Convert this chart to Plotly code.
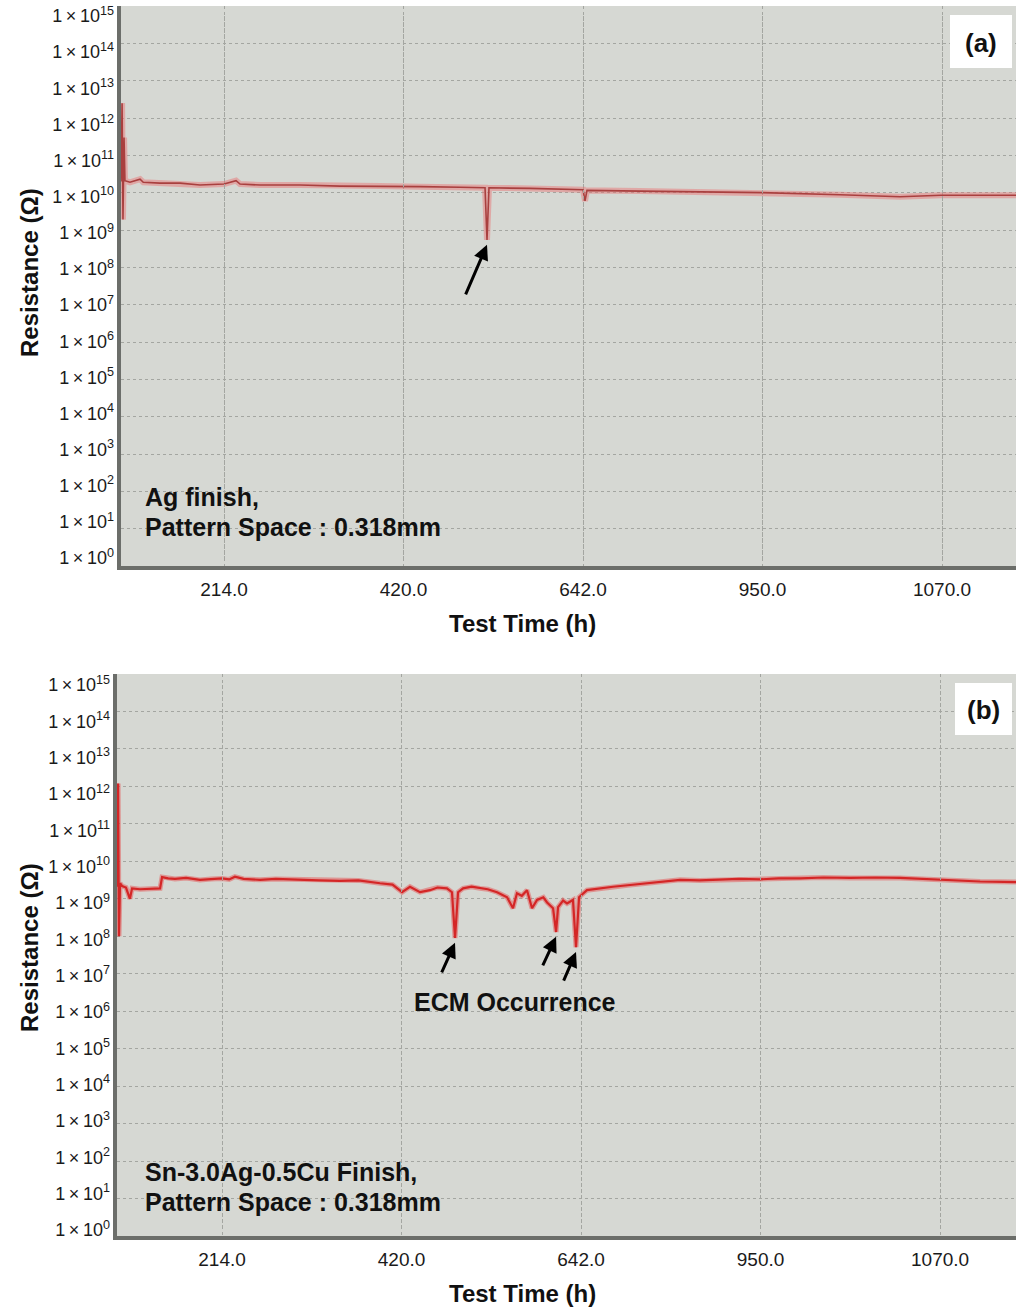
import plotly.graph_objects as go
import numpy as np

# ---------------- data ----------------
tick_pos = [1, 2, 3, 4, 5]
tick_labels = ["214.0", "420.0", "642.0", "950.0", "1070.0"]
decades = list(range(0, 16))

# Panel (a): Ag finish
pos_a = [0.426, 0.432, 0.437, 0.443, 0.448, 0.476, 0.532, 0.55, 0.643, 0.755, 0.866,
         1.000, 1.067, 1.089, 1.201, 1.423, 1.646, 1.869, 2.092, 2.315, 2.454, 2.465,
         2.476, 2.705, 3.000, 3.011, 3.022, 3.318, 3.652, 3.997, 4.432, 4.766, 4.994, 5.412]
res_a = [2.0e10, 2.5e12, 1.9e9, 3.0e11, 2.1e10, 1.9e10, 2.3e10, 1.9e10, 1.8e10, 1.8e10, 1.6e10,
         1.7e10, 2.1e10, 1.7e10, 1.6e10, 1.6e10, 1.5e10, 1.5e10, 1.45e10, 1.4e10, 1.35e10, 5.4e8,
         1.35e10, 1.3e10, 1.2e10, 6.0e9, 1.15e10, 1.1e10, 1.05e10, 1.0e10, 8.8e9, 7.8e9, 8.5e9, 8.5e9]
dip_a = [(2.465, 5.4e8)]

# Panel (b): Sn-3.0Ag-0.5Cu finish
pos_b = [0.418, 0.421, 0.426, 0.432, 0.443, 0.465, 0.487, 0.499, 0.543, 0.627, 0.655, 0.666,
         0.700, 0.738, 0.800, 0.877, 0.940, 1.000, 1.040, 1.072, 1.120, 1.212, 1.300, 1.435,
         1.540, 1.657, 1.760, 1.880, 1.950, 2.003, 2.047, 2.103, 2.159, 2.200, 2.253, 2.281,
         2.298, 2.315, 2.343, 2.390, 2.437, 2.480, 2.532, 2.588, 2.621, 2.643, 2.670, 2.699,
         2.727, 2.755, 2.790, 2.811, 2.844, 2.861, 2.872, 2.900, 2.922, 2.955, 2.972, 2.989,
         3.033, 3.100, 3.178, 3.260, 3.368, 3.450, 3.552, 3.660, 3.774, 3.880, 3.997, 4.100,
         4.220, 4.350, 4.499, 4.640, 4.777, 4.900, 5.000, 5.100, 5.223, 5.423]
res_b = [2.1e9, 1.2e12, 1.0e8, 2.6e9, 2.2e9, 2.0e9, 1.0e9, 1.9e9, 1.8e9, 1.9e9, 1.9e9, 3.8e9,
         3.5e9, 3.4e9, 3.6e9, 3.2e9, 3.4e9, 3.5e9, 3.3e9, 3.9e9, 3.4e9, 3.2e9, 3.4e9, 3.3e9,
         3.1e9, 3.0e9, 3.1e9, 2.6e9, 2.4e9, 1.5e9, 2.1e9, 1.5e9, 1.7e9, 2.0e9, 1.9e9, 1.5e9,
         9.0e7, 1.5e9, 1.9e9, 2.1e9, 1.9e9, 1.8e9, 1.5e9, 1.1e9, 5.6e8, 1.4e9, 1.2e9, 1.7e9,
         5.6e8, 9.3e8, 1.1e9, 8.0e8, 5.6e8, 1.3e8, 6.0e8, 9.0e8, 7.5e8, 9.3e8, 5.1e7, 1.1e9,
         1.7e9, 1.9e9, 2.1e9, 2.3e9, 2.6e9, 2.9e9, 3.2e9, 3.1e9, 3.2e9, 3.4e9, 3.3e9, 3.5e9,
         3.5e9, 3.7e9, 3.6e9, 3.7e9, 3.6e9, 3.4e9, 3.2e9, 3.0e9, 2.9e9, 2.8e9]
dip_b = [(2.298, 9.0e7), (2.861, 1.3e8), (2.972, 5.1e7)]

# ---------------- layout helpers ----------------
W, H = 1016, 1310
def px(x):
    return x / W
def py(y):
    return 1 - y / H

BG = "#d6d8d3"
GRID = "#a4a6a1"
AXLINE = "#6c6e6a"
YTICKFONT = dict(family="Liberation Sans, Arial, sans-serif", size=18, color="#1a1a1a")
XTICKFONT = dict(family="Liberation Sans, Arial, sans-serif", size=19, color="#1a1a1a")
BOLD = "Liberation Sans, Arial, sans-serif"
THIN = "\u2009"

fig = go.Figure()

fig.add_trace(go.Scatter(x=pos_a, y=res_a, mode="lines", xaxis="x", yaxis="y",
                         line=dict(color="rgba(235,110,110,0.45)", width=6), hoverinfo="skip"))
fig.add_trace(go.Scatter(x=pos_a, y=res_a, mode="lines", xaxis="x", yaxis="y",
                         line=dict(color="#a9403f", width=1.6)))
fig.add_trace(go.Scatter(x=pos_b, y=res_b, mode="lines", xaxis="x2", yaxis="y2",
                         line=dict(color="rgba(230,70,70,0.45)", width=5), hoverinfo="skip"))
fig.add_trace(go.Scatter(x=pos_b, y=res_b, mode="lines", xaxis="x2", yaxis="y2",
                         line=dict(color="#d42626", width=2.2)))
# invisible carriers for the tick-label axes (labels are laid out slightly inset, as in the original)
fig.add_trace(go.Scatter(x=pos_a, y=res_a, mode="lines", xaxis="x", yaxis="y3",
                         line=dict(width=0), opacity=0, hoverinfo="skip"))
fig.add_trace(go.Scatter(x=pos_b, y=res_b, mode="lines", xaxis="x2", yaxis="y4",
                         line=dict(width=0), opacity=0, hoverinfo="skip"))

def xaxis_cfg(domain, rng, anchor):
    return dict(domain=domain, range=rng, anchor=anchor, tickmode="array",
                tickvals=tick_pos, ticktext=tick_labels, tickfont=XTICKFONT,
                showgrid=True, gridcolor=GRID, griddash="dot", gridwidth=1,
                showline=True, linecolor=AXLINE, linewidth=4, ticks="",
                ticklabelstandoff=3, zeroline=False, automargin=False)

def yaxis_cfg(domain, anchor):
    return dict(domain=domain, type="log", range=[0, 15], anchor=anchor,
                tickmode="array", tickvals=[10 ** d for d in decades],
                showticklabels=False,
                showgrid=True, gridcolor=GRID, griddash="dot", gridwidth=1,
                showline=True, linecolor=AXLINE, linewidth=4, ticks="",
                zeroline=False, automargin=False)

def ylabel_cfg(domain, xpos):
    return dict(domain=domain, type="log", range=[0, 15], anchor="free", position=xpos,
                tickmode="array", tickvals=[10 ** d for d in decades],
                ticktext=[f"1{THIN}×{THIN}10<sup>{d}</sup>" for d in decades], tickfont=YTICKFONT,
                showgrid=False, showline=False, ticks="", ticklabelstandoff=7,
                zeroline=False, automargin=False, fixedrange=True)

xa_left, xb_left = 121, 117
u_a = (0.426, 5.412)
u_b = (0.415, 5.423)
panel_a = (xa_left, 6, W, 566)
panel_b = (xb_left, 674, W, 1236)

fig.update_layout(
    width=W, height=H, paper_bgcolor="white", plot_bgcolor="rgba(0,0,0,0)",
    margin=dict(l=0, r=0, t=0, b=0, autoexpand=False), showlegend=False,
    xaxis=xaxis_cfg([px(xa_left), 1], list(u_a), "y"),
    yaxis=yaxis_cfg([py(panel_a[3]), py(panel_a[1])], "x"),
    xaxis2=xaxis_cfg([px(xb_left), 1], list(u_b), "y2"),
    yaxis2=yaxis_cfg([py(panel_b[3]), py(panel_b[1])], "x2"),
    yaxis3=ylabel_cfg([py(558), py(16)], px(xa_left)),
    yaxis4=ylabel_cfg([py(1230), py(685)], px(xb_left)),
)

shapes = []
# gray plot areas (drawn below grid and data)
for (x0, y0, x1, y1) in (panel_a, panel_b):
    shapes.append(dict(type="rect", xref="paper", yref="paper", x0=px(x0), x1=px(x1),
                       y0=py(y1), y1=py(y0), fillcolor=BG, line=dict(width=0), layer="below"))

annotations = []
def txt(x, y, s, size=25, xanchor="left", angle=0):
    annotations.append(dict(xref="paper", yref="paper", x=px(x), y=py(y), text=s,
                            showarrow=False, xanchor=xanchor, yanchor="middle",
                            textangle=angle,
                            font=dict(family=BOLD, size=size, color="#111111")))

# axis titles
for cy in (273, 948):
    txt(29, cy, "<b>Resistance (Ω)</b>", size=24, xanchor="center", angle=-90)
txt(522, 623, "<b>Test Time (h)</b>", size=24, xanchor="center")
txt(522, 1293, "<b>Test Time (h)</b>", size=24, xanchor="center")

# in-plot labels
txt(143, 497, "<b>Ag finish,</b>")
txt(143, 527, "<b>Pattern Space : 0.318mm</b>")
txt(143, 1172, "<b>Sn-3.0Ag-0.5Cu Finish,</b>")
txt(143, 1202, "<b>Pattern Space : 0.318mm</b>")
txt(515, 1002, "<b>ECM Occurrence</b>", xanchor="center")

# panel letters in white boxes
for (x0, y0, x1, y1, lab) in [(950, 15, 1012, 68, "(a)"), (955, 683, 1012, 735, "(b)")]:
    shapes.append(dict(type="rect", xref="paper", yref="paper", x0=px(x0), x1=px(x1),
                       y0=py(y1), y1=py(y0), fillcolor="white", line=dict(width=0)))
    txt((x0 + x1) / 2, (y0 + y1) / 2 + 1, f"<b>{lab}</b>", size=26, xanchor="center")

# arrows pointing at dips
def arrow(xr, yr, u, val, ax, ay, drop=0.13):
    annotations.append(dict(xref=xr, yref=yr, x=u, y=np.log10(val) - drop, ax=ax, ay=ay,
                            text="", showarrow=True, arrowhead=2, arrowsize=1.0,
                            arrowwidth=3, arrowcolor="black"))

for u, v in dip_a:
    arrow("x", "y", u, v, -22, 51)
for (u, v), (ax, ay) in zip(dip_b, [(-14, 31), (-14, 30), (-13, 30)]):
    arrow("x2", "y2", u, v, ax, ay)

fig.update_layout(annotations=annotations, shapes=shapes)

fig.write_html("out.html")
